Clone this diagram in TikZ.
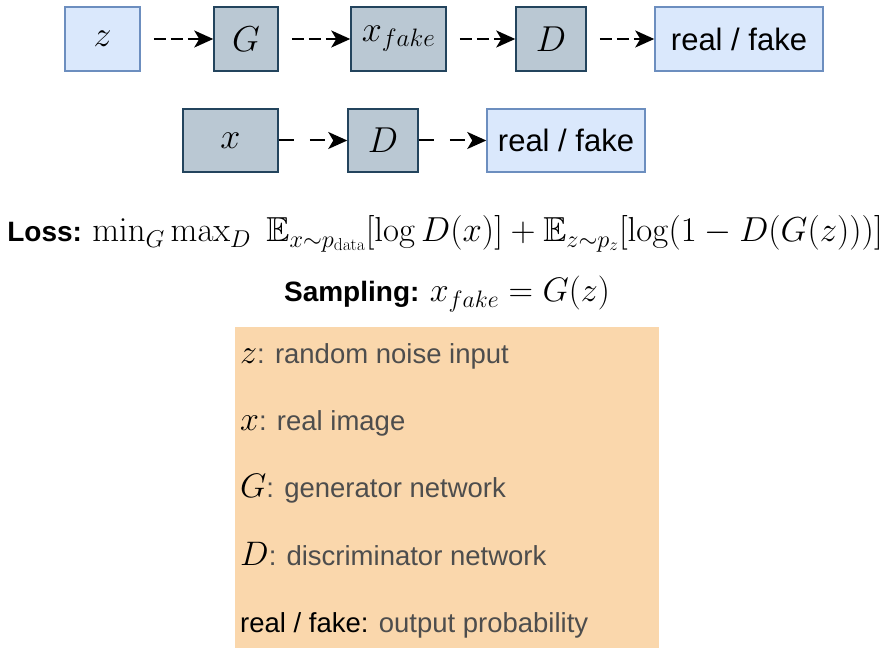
\RequirePackage{fix-cm}
\documentclass[tikz,border=0pt]{standalone}
\usepackage{amssymb}
\usepackage[no-math]{fontspec}
\setmainfont{Liberation Sans}
\usetikzlibrary{arrows.meta}
\definecolor{bluefill}{HTML}{DAE8FC}
\definecolor{bluedraw}{HTML}{6C8EBF}
\definecolor{grayfill}{HTML}{BAC8D3}
\definecolor{graydraw}{HTML}{23445D}
\definecolor{legendfill}{HTML}{FAD7AC}
\definecolor{legendtext}{HTML}{4D4D4D}
\newcommand{\boxtxt}{\fontsize{31}{36}\selectfont}
\newcommand{\boxmath}{\fontsize{36}{40}\selectfont}
\newcommand{\lgtxt}{\fontsize{28}{32}\selectfont}
\newcommand{\lgitem}{\fontsize{27.5}{32}\selectfont}
\newcommand{\lgmath}{\fontsize{34}{38}\selectfont}
\newcommand{\lossmath}{\fontsize{34.7}{38}\selectfont}
\newcommand{\lgsym}[1]{{\lgmath\textcolor{black}{$#1$}}}
\tikzset{
  bluebox/.style={draw=bluedraw, fill=bluefill, line width=1.5pt, inner sep=0pt, anchor=center},
  graybox/.style={draw=graydraw, fill=grayfill, line width=1.5pt, inner sep=0pt, anchor=center},
  toparrow/.style={line width=2pt, dash pattern=on 12pt off 5pt, -{Stealth[length=19pt,width=17pt,inset=5pt]}, shorten <=13pt},
  botarrow/.style={line width=2pt, dash pattern=on 15pt off 16pt, -{Stealth[length=19pt,width=17pt,inset=5pt]}},
  legendbox/.style={fill=legendfill, draw=none, inner sep=0pt},
  legendline/.style={anchor=base west, inner sep=0pt, text=legendtext},
  formula/.style={anchor=base, inner sep=0pt}
}
\begin{document}
\begin{tikzpicture}[x=1pt, y=-1pt]
\useasboundingbox (0,0) rectangle (892,660);
% top row
\node[bluebox, minimum width=75pt, minimum height=64pt] (z) at (102.5,39) {\boxmath$z$};
\node[graybox, minimum width=64pt, minimum height=64pt] (G) at (246,39) {\boxmath$G$};
\node[graybox, minimum width=95pt, minimum height=64pt] (xf) at (398.5,39) {\boxmath$x_{fake}$};
\node[graybox, minimum width=70pt, minimum height=64pt] (D1) at (551,39) {\boxmath$D$};
\node[bluebox, minimum width=168pt, minimum height=64pt] (rf1) at (739,39) {\boxtxt real / fake};
\draw[toparrow] (z) -- (G);
\draw[toparrow] (G) -- (xf);
\draw[toparrow] (xf) -- (D1);
\draw[toparrow] (D1) -- (rf1);
% second row
\node[graybox, minimum width=95pt, minimum height=63pt] (x) at (230.5,140.5) {\boxmath$x$};
\node[graybox, minimum width=70pt, minimum height=63pt] (D2) at (383,140.5) {\boxmath$D$};
\node[bluebox, minimum width=158pt, minimum height=63pt] (rf2) at (566,140.5) {\boxtxt real / fake};
\draw[botarrow] (x) -- (D2);
\draw[botarrow] (D2) -- (rf2);
% formulas
\node[formula] (loss) at (445,242) {\lgtxt\textbf{Loss:} \lossmath$\min_G \max_D\ \mathbb{E}_{x\sim p_{\mathrm{data}}}[\log D(x)] + \mathbb{E}_{z\sim p_z}[\log(1-D(G(z)))]$};
\node[formula] (samp) at (447,302) {\lgtxt\textbf{Sampling:} \lgmath$x_{fake} = G(z)$};
% legend
\node[legendbox, minimum width=424pt, minimum height=321pt, anchor=north west] (legend) at (235,327) {};
\node[legendline] (l1) at (240,363) {\lgsym{z}\lgitem: random noise input};
\node[legendline] (l2) at (240,430) {\lgsym{x}\lgitem: real image};
\node[legendline] (l3) at (240,497) {\lgsym{G}\lgitem: generator network};
\node[legendline] (l4) at (240,565) {\lgsym{D}\lgitem: discriminator network};
\node[legendline] (l5) at (240,632) {\lgitem\textcolor{black}{real / fake:} output probability};
\end{tikzpicture}
\end{document}
